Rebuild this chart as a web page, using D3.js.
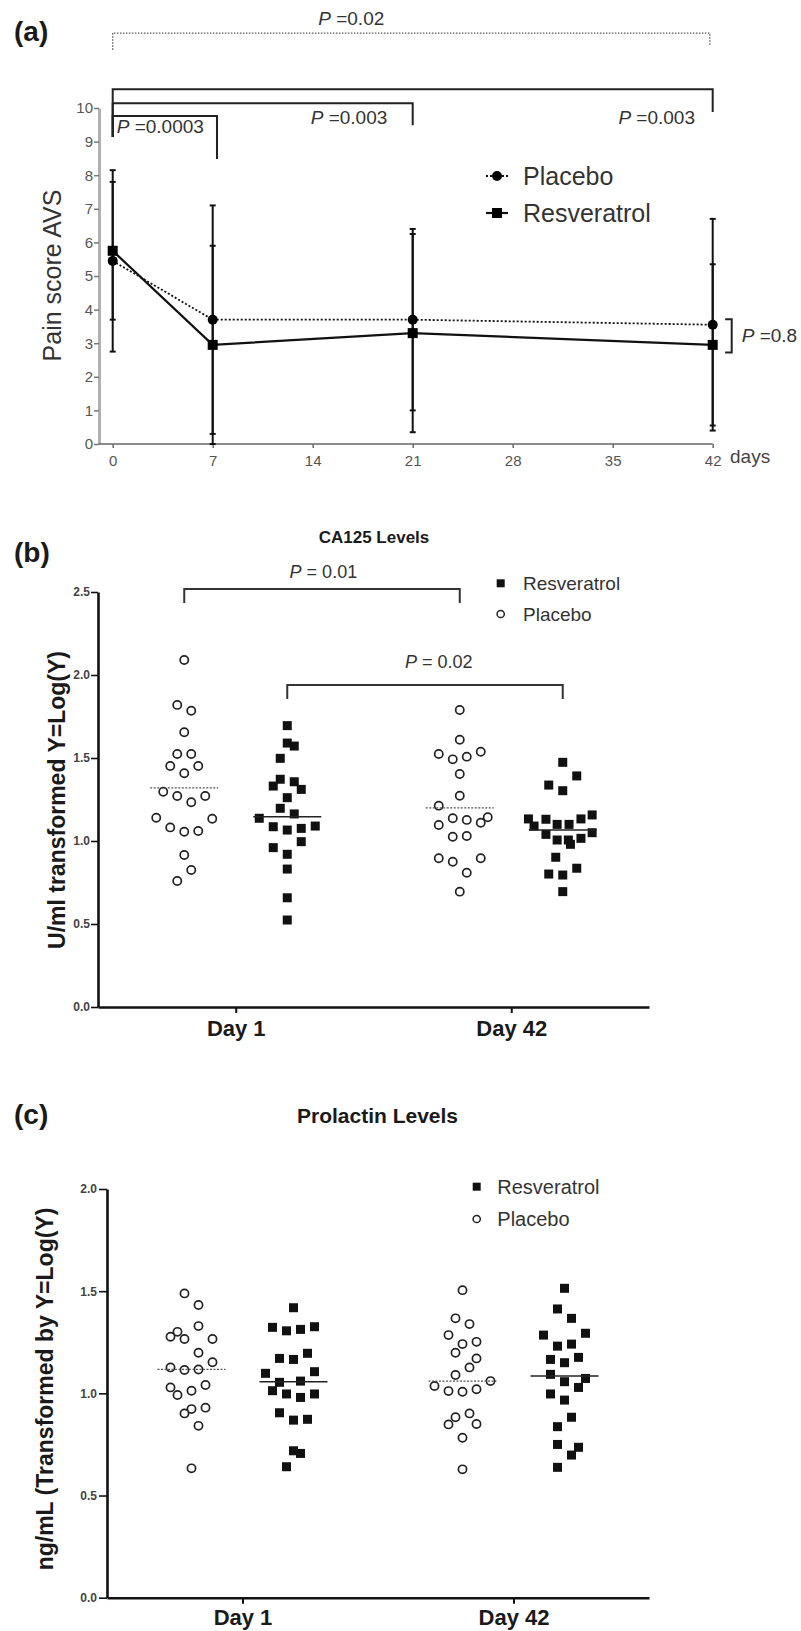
<!DOCTYPE html>
<html><head><meta charset="utf-8">
<script src="https://cdn.jsdelivr.net/npm/d3@7"></script>
<style>
body{margin:0;background:#fff;}
svg{display:block;}
</style></head><body>
<svg id="chart" width="801" height="1631"></svg>
<script>
// ================= DATA =================
// Panel (a): pain score
const painDays = [0, 7, 21, 42];
const painXTicks = [0, 7, 14, 21, 28, 35, 42];
const painYTicks = [0, 1, 2, 3, 4, 5, 6, 7, 8, 9, 10];
const placeboPainMean = [5.45, 3.7, 3.7, 3.55];
const placeboPainSD = [2.7, 3.4, 2.7, 3.15];
const resvPainMean = [5.75, 2.95, 3.3, 2.95];
const resvPainSD = [2.05, 2.95, 2.95, 2.4];
const painSeriesNames = ["Placebo", "Resveratrol"];
// comparison brackets (days, score units)
const painBracketFrom = [0, 0, 0, 0];
const painBracketTo = [41.8, 42, 21, 7.3];
const painBracketLevel = [12.23, 10.556, 10.14, 9.76];
const painBracketLeftEnd = [11.73, 9.137, 9.137, 9.137];
const painBracketRightEnd = [11.875, 9.88, 9.49, 8.48];
const painBracketDotted = [true, false, false, false];
const painPLabels = ["=0.02", "=0.003", "=0.003", "=0.0003", "=0.8"];
const painPLabelDay = [16.7, 40.76, 16.54, 0.28, 44.03];
const painPLabelScore = [12.47, 9.524, 9.524, 9.256, 3.045];
const painPLabelAnchor = ["middle", "end", "middle", "start", "start"];

// Panels (b), (c)
const dotDays = ["Day 1", "Day 42"];
const dotGroups = ["Placebo", "Resveratrol"];

// CA125
const caYTicks = [0, 0.5, 1.0, 1.5, 2.0, 2.5];
const caPlaceboDay1 = [2.09, 1.82, 1.785, 1.655, 1.524, 1.524, 1.452, 1.452, 1.408, 1.297, 1.271, 1.233, 1.271, 1.14, 1.134, 1.082, 1.056, 1.06, 0.916, 0.825, 0.759];
const caPlaceboDay1Slot = [0, -1, 1, 0, -1, 1, -2, 2, 0, -3, -1, 1, 3, -4, 4, -2, 0, 2, 0, 1, -1];
const caResvDay1 = [1.695, 1.59, 1.572, 1.498, 1.372, 1.357, 1.331, 1.311, 1.261, 1.197, 1.163, 1.137, 1.086, 1.066, 1.076, 1.09, 0.96, 0.996, 0.92, 0.831, 0.658, 0.524];
const caResvDay1Slot = [0, 0, 1, -1, -1, 1, -2, 2, 0, -1, 1, -4, -2, 0, 2, 4, -2, 2, 0, 0, 0, 0];
const caPlaceboDay42 = [1.789, 1.61, 1.538, 1.524, 1.508, 1.492, 1.404, 1.273, 1.213, 1.143, 1.137, 1.127, 1.11, 1.096, 1.03, 1.026, 0.896, 0.896, 0.875, 0.809, 0.695];
const caPlaceboDay42Slot = [0, 0, 3, -3, 1, -1, 0, 0, -3, 4, -1, 1, 3, -3, 1, -1, -3, 3, -1, 1, 0];
const caResvDay42 = [1.474, 1.392, 1.337, 1.303, 1.157, 1.133, 1.133, 1.131, 1.10, 1.10, 1.09, 1.05, 1.04, 1.016, 1.006, 1.006, 0.98, 0.902, 0.836, 0.801, 0.795, 0.695];
const caResvDay42Slot = [0, 2, -2, 0, 4.2, -4.9, 2.6, -2.4, -0.8, 0.9, -4.1, 4.2, -2.4, 2.6, -0.8, 0.8, 1.1, -1, 2, -2, 0, 0];
const caCenterLines = [1.32, 1.146, 1.20, 1.066]; // P d1, R d1, P d42, R d42
const caBracketGroup = ["Placebo", "Resveratrol"];
const caBracketLevel = [2.518, 1.94];
const caBracketEnd = [2.434, 1.855];
const caBracketLabel = ["= 0.01", "= 0.02"];
const caBracketLabelFrac = [0.505, 0.55];
const caBracketLabelValue = [2.584, 2.042];

// Prolactin
const prlYTicks = [0, 0.5, 1.0, 1.5, 2.0];
const prlPlaceboDay1 = [1.489, 1.432, 1.329, 1.301, 1.277, 1.266, 1.266, 1.199, 1.152, 1.127, 1.117, 1.114, 1.041, 1.029, 1.013, 0.992, 0.93, 0.923, 0.902, 0.841, 0.633];
const prlPlaceboDay1Slot = [-1, 1, 1, -2, -3, -1, 3, 1, 3, -3, 1, -1, 2, -3, 0, -2, 2, 0, -1, 1, 0];
const prlResvDay1 = [1.419, 1.326, 1.323, 1.313, 1.306, 1.196, 1.171, 1.166, 1.106, 1.098, 1.06, 1.054, 1.013, 0.997, 0.997, 0.98, 0.905, 0.873, 0.869, 0.719, 0.706, 0.641];
const prlResvDay1Slot = [0, 3, -3, 1, -1, 2, -2, 0, 3, -4, 1, -2, -3, -1, 3, 1, -2, 2, 0, 0, 1, -1];
const prlPlaceboDay42 = [1.505, 1.367, 1.339, 1.285, 1.252, 1.241, 1.199, 1.171, 1.127, 1.09, 1.06, 1.036, 1.02, 1.011, 1.008, 0.902, 0.883, 0.85, 0.848, 0.783, 0.628];
const prlPlaceboDay42Slot = [0, -1, 1, -2, 2, 0, -1, 2, 1, -1, 4, -4, 2, -2, 0, 1, -1, 2, -2, 0, 0];
const prlResvDay42 = [1.514, 1.413, 1.367, 1.294, 1.285, 1.241, 1.231, 1.176, 1.166, 1.15, 1.093, 1.073, 1.057, 1.029, 0.997, 0.967, 0.883, 0.837, 0.75, 0.736, 0.698, 0.638];
const prlResvDay42Slot = [0, -1, 1, 3, -3, 1, -1, 2, -2, 0, -2, 3, 0, 2, -2, 0, 1, -1, -1, 2, 1, -1];
const prlCenterLines = [1.117, 1.057, 1.06, 1.085];

// ================= DRAWING =================
const FONT = '"Liberation Sans", Arial, Helvetica, sans-serif';
const svg = d3.select("#chart").attr("font-family", FONT);
svg.append("rect").attr("width", 801).attr("height", 1631).attr("fill", "#fff");

function pText(sel, x, y, rest, size, anchor) {
  const t = sel.append("text").attr("x", x).attr("y", y)
    .attr("font-size", size).attr("text-anchor", anchor).attr("fill", "#333");
  t.append("tspan").attr("font-style", "italic").text("P");
  t.append("tspan").text(" " + rest);
  return t;
}

// panel letters
[["(a)", 41], ["(b)", 562], ["(c)", 1124]].forEach(([t, y]) => {
  svg.append("text").attr("x", 14).attr("y", y).attr("font-size", 28)
    .attr("font-weight", "bold").attr("fill", "#1a1a1a").text(t);
});

// ---------- Panel (a) ----------
(function () {
  const g = svg.append("g");
  const x = d3.scaleLinear().domain([0, 42]).range([112.7, 712.7]);
  const y = d3.scaleLinear().domain([0, 10]).range([444, 108]);
  const axisX0 = 99;

  // y axis
  g.append("g").attr("transform", `translate(${axisX0},0)`)
    .call(d3.axisLeft(y).tickValues(painYTicks).tickSize(5).tickSizeOuter(0).tickPadding(1))
    .call(a => {
      a.attr("font-family", FONT).attr("font-size", 15);
      a.select(".domain").attr("stroke", "#b0b0b0").attr("stroke-width", 3);
      a.selectAll(".tick line").attr("stroke", "#777").attr("stroke-width", 1.5);
      a.selectAll(".tick text").attr("fill", "#555");
    });
  // x axis
  g.append("line").attr("x1", axisX0).attr("x2", x(42)).attr("y1", y(0)).attr("y2", y(0))
    .attr("stroke", "#666").attr("stroke-width", 1.5);
  g.append("g").attr("transform", `translate(0,${y(0)})`)
    .call(d3.axisBottom(x).tickValues(painXTicks).tickSize(4).tickPadding(7))
    .call(a => {
      a.attr("font-family", FONT).attr("font-size", 15);
      a.select(".domain").remove();
      a.selectAll(".tick line").attr("stroke", "#666").attr("stroke-width", 1.5);
      a.selectAll(".tick text").attr("fill", "#555");
    });
  g.append("text").attr("x", 730).attr("y", 463).attr("font-size", 19).attr("fill", "#444").text("days");
  g.append("text").attr("transform", "translate(61,275.5) rotate(-90)")
    .attr("text-anchor", "middle").attr("font-size", 25).attr("fill", "#333").text("Pain score AVS");

  const series = [
    { name: painSeriesNames[0], means: placeboPainMean, sds: placeboPainSD, sym: "circle", dash: "2,2", w: 1.8 },
    { name: painSeriesNames[1], means: resvPainMean, sds: resvPainSD, sym: "square", dash: null, w: 2.2 }
  ];
  const eb = g.append("g").attr("stroke", "#111").attr("stroke-width", 2);
  series.forEach(s => {
    painDays.forEach((d, i) => {
      const lo = s.means[i] - s.sds[i], hi = s.means[i] + s.sds[i];
      eb.append("line").attr("x1", x(d)).attr("x2", x(d)).attr("y1", y(lo)).attr("y2", y(hi));
      [lo, hi].forEach(v => eb.append("line").attr("x1", x(d) - 3).attr("x2", x(d) + 3).attr("y1", y(v)).attr("y2", y(v)));
    });
  });
  const line = d3.line().x((d, i) => x(painDays[i])).y(d => y(d));
  series.forEach(s => {
    g.append("path").attr("d", line(s.means)).attr("fill", "none").attr("stroke", "#111")
      .attr("stroke-width", s.w).attr("stroke-dasharray", s.dash);
  });
  series.forEach(s => {
    s.means.forEach((m, i) => {
      if (s.sym === "circle") g.append("circle").attr("cx", x(painDays[i])).attr("cy", y(m)).attr("r", 5).attr("fill", "#000");
      else g.append("rect").attr("x", x(painDays[i]) - 5).attr("y", y(m) - 5).attr("width", 10).attr("height", 10).attr("fill", "#000");
    });
  });

  // brackets
  painBracketFrom.forEach((f, i) => {
    const p = d3.path();
    p.moveTo(x(f), y(painBracketLeftEnd[i]));
    p.lineTo(x(f), y(painBracketLevel[i]));
    p.lineTo(x(painBracketTo[i]), y(painBracketLevel[i]));
    p.lineTo(x(painBracketTo[i]), y(painBracketRightEnd[i]));
    g.append("path").attr("d", p.toString()).attr("fill", "none")
      .attr("stroke", painBracketDotted[i] ? "#555" : "#222")
      .attr("stroke-width", painBracketDotted[i] ? 1.3 : 2)
      .attr("stroke-dasharray", painBracketDotted[i] ? "1.5,1.5" : null);
  });
  // P = 0.8 side bracket
  const sb = d3.path();
  sb.moveTo(x(42.87), y(3.71)); sb.lineTo(x(43.33), y(3.71));
  sb.lineTo(x(43.33), y(2.72)); sb.lineTo(x(42.87), y(2.72));
  g.append("path").attr("d", sb.toString()).attr("fill", "none").attr("stroke", "#222").attr("stroke-width", 2);
  painPLabels.forEach((t, i) => {
    pText(g, x(painPLabelDay[i]), y(painPLabelScore[i]), t, 19, painPLabelAnchor[i]);
  });

  // legend
  const lg = g.append("g").attr("transform", "translate(486,176)");
  series.forEach((s, i) => {
    const r = lg.append("g").attr("transform", `translate(0,${i * 37})`);
    r.append("line").attr("x1", 0).attr("x2", 22).attr("stroke", "#111").attr("stroke-width", s.w).attr("stroke-dasharray", s.dash);
    if (s.sym === "circle") r.append("circle").attr("cx", 11).attr("r", 5).attr("fill", "#000");
    else r.append("rect").attr("x", 6).attr("y", -5).attr("width", 10).attr("height", 10).attr("fill", "#000");
    r.append("text").attr("x", 37).attr("y", 9).attr("font-size", 25).attr("fill", "#333").text(s.name);
  });
})();

// ---------- dot panels ----------
function dotPanel(cfg) {
  const g = svg.append("g");
  const x = d3.scalePoint().domain(dotDays).range(cfg.xRange).padding(0.5);
  const grp = d3.scalePoint().domain(dotGroups).range([-cfg.groupOffset, cfg.groupOffset]);
  const y = d3.scaleLinear().domain(cfg.yDomain).range(cfg.yRange);
  const slot = d3.scaleLinear().domain([0, 1]).range([0, 7]);
  const cx = (day, group) => x(day) + grp(group);

  // axes
  g.append("g").attr("transform", `translate(${cfg.xRange[0]},0)`)
    .call(d3.axisLeft(y).tickValues(cfg.yTicks).tickFormat(d3.format(".1f")).tickSize(cfg.yTickSize).tickSizeOuter(0).tickPadding(cfg.yTickPad))
    .call(a => {
      a.attr("font-family", FONT).attr("font-size", 12).attr("font-weight", "bold");
      a.select(".domain").attr("stroke", "#111").attr("stroke-width", 2.6);
      a.selectAll(".tick line").attr("stroke", "#111").attr("stroke-width", 1.6);
      a.selectAll(".tick text").attr("fill", "#444");
    });
  g.append("g").attr("transform", `translate(0,${y(0)})`)
    .call(d3.axisBottom(x).tickSize(6).tickSizeOuter(0).tickPadding(cfg.xTickPad))
    .call(a => {
      a.attr("font-family", FONT).attr("font-size", 22).attr("font-weight", "bold");
      a.select(".domain").attr("stroke", "#111").attr("stroke-width", 2.6);
      a.selectAll(".tick line").attr("stroke", "#111").attr("stroke-width", 2);
      a.selectAll(".tick text").attr("fill", "#1a1a1a");
    });
  g.append("text").attr("transform", `translate(${cfg.yLabelPos[0]},${cfg.yLabelPos[1]}) rotate(-90)`)
    .attr("text-anchor", "middle").attr("font-size", 23).attr("font-weight", "bold").attr("fill", "#1a1a1a").text(cfg.yLabel);
  g.append("text").attr("x", cfg.titlePos[0]).attr("y", cfg.titlePos[1]).attr("text-anchor", "middle")
    .attr("font-size", cfg.titleSize).attr("font-weight", "bold").attr("fill", "#1a1a1a").text(cfg.title);

  // points
  cfg.groups.forEach(G => {
    const c = cx(G.day, G.group);
    G.values.forEach((v, i) => {
      const px = c + slot(G.slots[i]);
      if (G.group === "Placebo")
        g.append("circle").attr("cx", px).attr("cy", y(v)).attr("r", 4.1)
          .attr("fill", "#fff").attr("stroke", "#222").attr("stroke-width", 1.7);
      else
        g.append("rect").attr("x", px - 4.5).attr("y", y(v) - 4.5).attr("width", 9).attr("height", 9).attr("fill", "#111");
    });
  });
  // center lines
  cfg.groups.forEach((G, k) => {
    const c = cx(G.day, G.group);
    const isP = G.group === "Placebo";
    g.append("line").attr("x1", c - 34).attr("x2", c + 34)
      .attr("y1", y(cfg.centers[k])).attr("y2", y(cfg.centers[k]))
      .attr("stroke", isP ? "#555" : "#222").attr("stroke-width", isP ? 1.2 : 1.6)
      .attr("stroke-dasharray", isP ? "2,1.5" : null);
  });
  // brackets
  if (cfg.brackets) {
    cfg.brackets.forEach(b => {
      const x1 = cx(dotDays[0], b.group), x2 = cx(dotDays[1], b.group);
      const p = d3.path();
      p.moveTo(x1, y(b.end)); p.lineTo(x1, y(b.level)); p.lineTo(x2, y(b.level)); p.lineTo(x2, y(b.end));
      g.append("path").attr("d", p.toString()).attr("fill", "none").attr("stroke", "#333").attr("stroke-width", 2);
      pText(g, x1 + (x2 - x1) * b.frac, y(b.labelValue), b.label, 18, "middle");
    });
  }
  // legend
  const lg = g.append("g").attr("transform", `translate(${cfg.legendPos[0]},${cfg.legendPos[1]})`);
  [["Resveratrol", "square"], ["Placebo", "circle"]].forEach(([name, sym], i) => {
    const r = lg.append("g").attr("transform", `translate(0,${i * cfg.legendGap})`);
    if (sym === "square") r.append("rect").attr("x", -4).attr("y", -4).attr("width", 8).attr("height", 8).attr("fill", "#111");
    else r.append("circle").attr("r", 3.6).attr("fill", "#fff").attr("stroke", "#222").attr("stroke-width", 1.5);
    r.append("text").attr("x", cfg.legendTextDx).attr("y", cfg.legendSize * 0.36).attr("font-size", cfg.legendSize).attr("fill", "#333").text(name);
  });
}

dotPanel({
  xRange: [98, 649], yDomain: [0, 2.5], yRange: [1007, 592], yTicks: caYTicks,
  yTickSize: 7, yTickPad: 1, xTickPad: 7, groupOffset: 51.5,
  yLabel: "U/ml transformed Y=Log(Y)", yLabelPos: [65, 800],
  title: "CA125 Levels", titlePos: [374, 543], titleSize: 17,
  legendPos: [500.7, 583.3], legendGap: 30.7, legendTextDx: 22.3, legendSize: 19,
  centers: caCenterLines,
  groups: [
    { day: "Day 1", group: "Placebo", values: caPlaceboDay1, slots: caPlaceboDay1Slot },
    { day: "Day 1", group: "Resveratrol", values: caResvDay1, slots: caResvDay1Slot },
    { day: "Day 42", group: "Placebo", values: caPlaceboDay42, slots: caPlaceboDay42Slot },
    { day: "Day 42", group: "Resveratrol", values: caResvDay42, slots: caResvDay42Slot }
  ],
  brackets: caBracketGroup.map((gname, i) => ({
    group: gname, level: caBracketLevel[i], end: caBracketEnd[i], label: caBracketLabel[i],
    frac: caBracketLabelFrac[i], labelValue: caBracketLabelValue[i]
  }))
});

dotPanel({
  xRange: [107, 649], yDomain: [0, 2], yRange: [1597.7, 1189], yTicks: prlYTicks,
  yTickSize: 8, yTickPad: 2, xTickPad: 6, groupOffset: 51,
  yLabel: "ng/mL (Transformed by Y=Log(Y)", yLabelPos: [53, 1389],
  title: "Prolactin Levels", titlePos: [377.5, 1122.5], titleSize: 21,
  legendPos: [476.7, 1186.7], legendGap: 32.3, legendTextDx: 20.6, legendSize: 20,
  centers: prlCenterLines,
  groups: [
    { day: "Day 1", group: "Placebo", values: prlPlaceboDay1, slots: prlPlaceboDay1Slot },
    { day: "Day 1", group: "Resveratrol", values: prlResvDay1, slots: prlResvDay1Slot },
    { day: "Day 42", group: "Placebo", values: prlPlaceboDay42, slots: prlPlaceboDay42Slot },
    { day: "Day 42", group: "Resveratrol", values: prlResvDay42, slots: prlResvDay42Slot }
  ]
});
</script>
</body></html>
